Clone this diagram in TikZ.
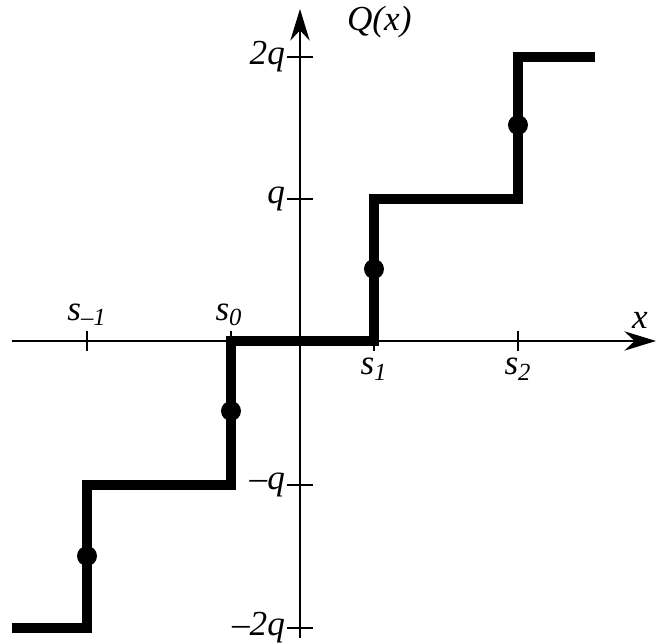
\documentclass[tikz,border=0pt]{standalone}
\usepackage{fontspec}
\setmainfont{Liberation Serif}
\usetikzlibrary{arrows.meta,calc,positioning}

\begin{document}
\begin{tikzpicture}[font=\fontsize{20}{24}\selectfont\itshape,
    axis/.style={line width=1.1pt,-{Stealth[length=18pt,width=11pt]}},
    tick/.style={line width=1.1pt},
    stair/.style={line width=5.8pt,line join=miter,line cap=butt},
    dot/.style={circle,fill=black,inner sep=0pt,minimum size=0.4cm},
    lbl/.style={inner sep=1pt}]
  \useasboundingbox (-6.0,-6.06) rectangle (7.18,6.82);
  % positions of the levels
  \coordinate (sm1) at (-4.26,0);
  \coordinate (s0) at (-1.38,0);
  \coordinate (s1) at (1.48,0);
  \coordinate (s2) at (4.36,0);
  \coordinate (q2) at (0,5.68);
  \coordinate (q1) at (0,2.84);
  \coordinate (qm1) at (0,-2.88);
  \coordinate (qm2) at (0,-5.74);
  % axes
  \coordinate (xl) at (-5.76,0);
  \coordinate (xr) at (7.12,0);
  \coordinate (yb) at (0,-5.94);
  \coordinate (yt) at (0,6.64);
  \draw[axis] (xl)--(xr);
  \draw[axis] (yb)--(yt);
  \node[lbl,anchor=south] (xlab) at (6.8,0.2) {x};
  \node[lbl,anchor=west] (ylab) at (0.9,6.38) {Q(x)};
  % ticks on x
  \foreach \c in {sm1,s0,s1,s2}
    \draw[tick] ($(\c)+(0,-0.2)$)--($(\c)+(0,0.2)$);
  \node[lbl,anchor=south] (lsm1) at ($(sm1)+(0,0.26)$) {s\textsubscript{–1}};
  \node[lbl,anchor=south] (ls0) at ($(s0)+(-0.04,0.26)$) {s\textsubscript{0}};
  \node[lbl,anchor=north] (ls1) at ($(s1)+(0,-0.3)$) {s\textsubscript{1}};
  \node[lbl,anchor=north] (ls2) at ($(s2)+(0,-0.3)$) {s\textsubscript{2}};
  % ticks on y
  \foreach \c in {q2,q1,qm1,qm2}
    \draw[tick] ($(\c)+(-0.26,0)$)--($(\c)+(0.26,0)$);
  \node[lbl,anchor=east] (lq2) at ($(q2)+(-0.26,0)$) {2q};
  \node[lbl,anchor=east] (lq1) at ($(q1)+(-0.26,0)$) {q};
  \node[lbl,anchor=east] (lqm1) at ($(qm1)+(-0.26,0)$) {–q};
  \node[lbl,anchor=east] (lqm2) at ($(qm2)+(-0.26,0)$) {–2q};
  % staircase
  \draw[stair] (-5.76,-5.74) -| (sm1 |- qm1) -| (s0) -| (s1 |- q1) -| (s2 |- q2) -- (5.9,5.68);
  \node[dot] (d1) at ($(sm1)+(0,-4.3)$) {};
  \node[dot] (d2) at ($(s0)+(0,-1.4)$) {};
  \node[dot] (d3) at ($(s1)+(0,1.44)$) {};
  \node[dot] (d4) at ($(s2)+(0,4.32)$) {};
\end{tikzpicture}
\end{document}
